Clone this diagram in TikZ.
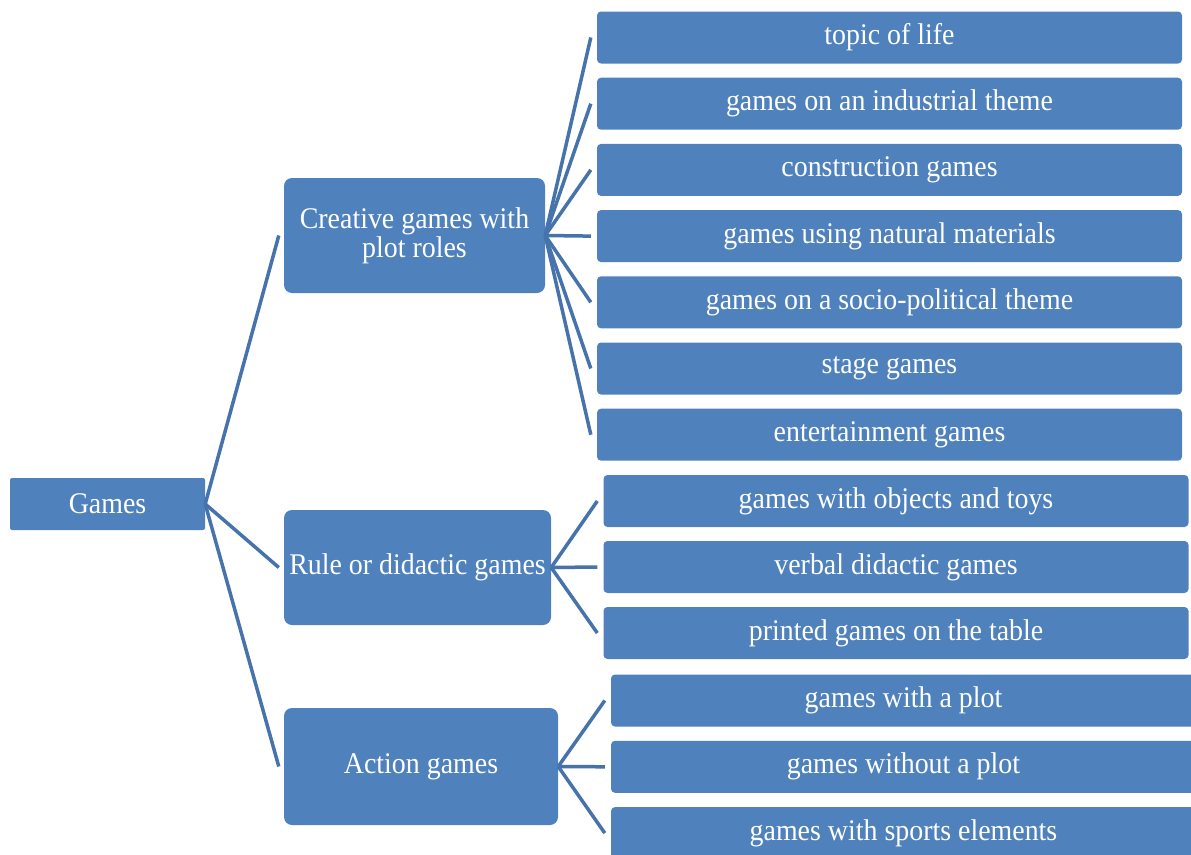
\documentclass[tikz,border=0pt]{standalone}
\usepackage{fontspec}
\setmainfont{Liberation Serif}[FakeStretch=0.93]
\usetikzlibrary{calc, positioning}
\definecolor{boxblue}{HTML}{4F81BD}
\definecolor{lineblue}{HTML}{4673AB}

\begin{document}
\begin{tikzpicture}[x=1pt, y=-1pt,
        box/.style={fill=boxblue, text=white, inner sep=0pt, align=center,
            font=\fontsize{30}{29}\selectfont},
        leaf/.style={box, minimum width=585pt, minimum height=52pt, rounded corners=4pt},
        group/.style={box, minimum height=115pt, rounded corners=8pt},
        link/.style={draw=lineblue, line width=3.5pt}]
    \useasboundingbox (0,0) rectangle (1191,854);
    \node[box, minimum width=195pt, minimum height=52pt, rounded corners=2pt] (games) at (107.5,504) {Games};
    \node[group, minimum width=261pt] (creative) at (414.5,235.5) {Creative games with\\plot roles};
    \node[group, minimum width=267pt] (rule) at (417.5,567.5) {Rule or didactic games};
    \node[group, minimum width=274pt, minimum height=117pt] (action) at (421,766.5) {Action games};
    \foreach \g in {creative, rule, action}{
        \draw[link] (games.east) -- ($(\g.west)+(-5,0)$);
    }
    \foreach \t [count=\i] in {topic of life, games on an industrial theme, construction games,
        games using natural materials, games on a socio-political theme, stage games, entertainment games}{
        \node[leaf] (c\i) at ({889.5},{37.5+66.2*(\i-1)}) {\t};
        \draw[link] (creative.east) -- ($(c\i.west)+(-6,0)$);
    }
    \foreach \t [count=\i] in {games with objects and toys, verbal didactic games, printed games on the table}{
        \node[leaf] (r\i) at ({896},{501+66*(\i-1)}) {\t};
        \draw[link] (rule.east) -- ($(r\i.west)+(-6,0)$);
    }
    \foreach \t [count=\i] in {games with a plot, games without a plot, games with sports elements}{
        \node[leaf] (a\i) at ({903.5},{700.5+66.3*(\i-1)}) {\t};
        \draw[link] (action.east) -- ($(a\i.west)+(-6,0)$);
    }
\end{tikzpicture}
\end{document}
